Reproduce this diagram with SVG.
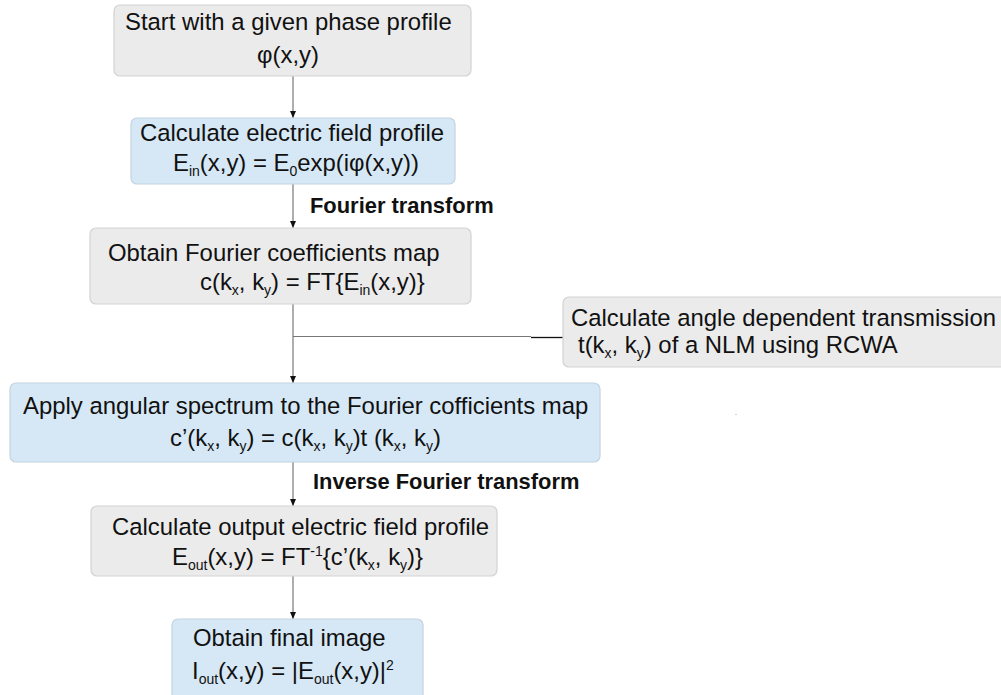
<svg xmlns="http://www.w3.org/2000/svg" width="1001" height="695" viewBox="0 0 1001 695">
<style>
.gray{fill:#ebebeb;stroke:#d3d3d3;stroke-width:1.2}
.blue{fill:#d6e8f6;stroke:#c3d3e0;stroke-width:1.2}
.t{font-family:"Liberation Sans",Arial,sans-serif;font-size:23.9px;fill:#111}
.lbl{font-family:"Liberation Sans",Arial,sans-serif;font-size:21.9px;font-weight:bold;fill:#111}
.sub{font-size:14px}
.conn{stroke:#777;stroke-width:1.2;fill:none}
</style>
<defs>
<marker id="ah" markerUnits="userSpaceOnUse" markerWidth="8" markerHeight="8" refX="7" refY="4" orient="auto">
<path d="M0,1 L7,4 L0,7 z" fill="#111"/>
</marker>
</defs>
<rect width="1001" height="695" fill="#ffffff"/>
<g id="connectors">
<line class="conn" x1="293" y1="76" x2="293" y2="118" marker-end="url(#ah)"/>
<line class="conn" x1="293" y1="184" x2="293" y2="228" marker-end="url(#ah)"/>
<line class="conn" x1="293" y1="304" x2="293" y2="383" marker-end="url(#ah)"/>
<line class="conn" x1="293" y1="462" x2="293" y2="506" marker-end="url(#ah)"/>
<line class="conn" x1="293" y1="576" x2="293" y2="619" marker-end="url(#ah)"/>
<line class="conn" x1="293" y1="336.5" x2="531" y2="336.5"/>
<line x1="531" y1="337.5" x2="563" y2="337.5" stroke="#111" stroke-width="1.3"/>
<text class="lbl" x="310" y="213">Fourier transform</text>
<text class="lbl" x="313" y="489">Inverse Fourier transform</text>
</g>
<g id="n1">
<rect class="gray" x="114" y="5" width="357" height="71" rx="6"/>
<text class="t" x="125" y="30">Start with a given phase profile</text>
<text class="t" x="257" y="63">φ(x,y)</text>
</g>
<g id="n2">
<rect class="blue" x="131" y="118" width="324" height="66" rx="6"/>
<text class="t" x="140" y="141">Calculate electric field profile</text>
<text class="t" x="173" y="171">E<tspan class="sub" dy="5">in</tspan><tspan dy="-5">(x,y) = E</tspan><tspan class="sub" dy="5">0</tspan><tspan dy="-5">exp(iφ(x,y))</tspan></text>
</g>
<g id="n3">
<rect class="gray" x="90" y="228" width="381" height="76" rx="6"/>
<text class="t" x="108" y="261">Obtain Fourier coefficients map</text>
<text class="t" x="200" y="290">c(k<tspan class="sub" dy="5">x</tspan><tspan dy="-5">, k</tspan><tspan class="sub" dy="5">y</tspan><tspan dy="-5">) = FT{E</tspan><tspan class="sub" dy="5">in</tspan><tspan dy="-5">(x,y)}</tspan></text>
</g>
<g id="n4">
<rect class="gray" x="563" y="297" width="445" height="70" rx="6"/>
<text class="t" x="571" y="326">Calculate angle dependent transmission</text>
<text class="t" x="578" y="353">t(k<tspan class="sub" dy="5">x</tspan><tspan dy="-5">, k</tspan><tspan class="sub" dy="5">y</tspan><tspan dy="-5">) of a NLM using RCWA</tspan></text>
</g>
<g id="n5">
<rect class="blue" x="10" y="383" width="590" height="79" rx="6"/>
<text class="t" x="23" y="414">Apply angular spectrum to the Fourier cofficients map</text>
<text class="t" x="170" y="446">c’(k<tspan class="sub" dy="5">x</tspan><tspan dy="-5">, k</tspan><tspan class="sub" dy="5">y</tspan><tspan dy="-5">) = c(k</tspan><tspan class="sub" dy="5">x</tspan><tspan dy="-5">, k</tspan><tspan class="sub" dy="5">y</tspan><tspan dy="-5">)t (k</tspan><tspan class="sub" dy="5">x</tspan><tspan dy="-5">, k</tspan><tspan class="sub" dy="5">y</tspan><tspan dy="-5">)</tspan></text>
</g>
<g id="n6">
<rect class="gray" x="91" y="506" width="406" height="70" rx="6"/>
<text class="t" x="112" y="535">Calculate output electric field profile</text>
<text class="t" x="172" y="565">E<tspan class="sub" dy="5">out</tspan><tspan dy="-5">(x,y) = FT</tspan><tspan class="sub" dy="-9">-1</tspan><tspan dy="9">{c’(k</tspan><tspan class="sub" dy="5">x</tspan><tspan dy="-5">, k</tspan><tspan class="sub" dy="5">y</tspan><tspan dy="-5">)}</tspan></text>
</g>
<g id="n7">
<rect class="blue" x="172" y="619" width="251" height="90" rx="6"/>
<text class="t" x="193" y="646">Obtain final image</text>
<text class="t" x="192" y="679">I<tspan class="sub" dy="5">out</tspan><tspan dy="-5">(x,y) = |E</tspan><tspan class="sub" dy="5">out</tspan><tspan dy="-5">(x,y)|</tspan><tspan class="sub" dy="-9">2</tspan></text>
</g>
<rect x="735" y="414" width="2" height="1" fill="#c8d0ee"/>
</svg>
